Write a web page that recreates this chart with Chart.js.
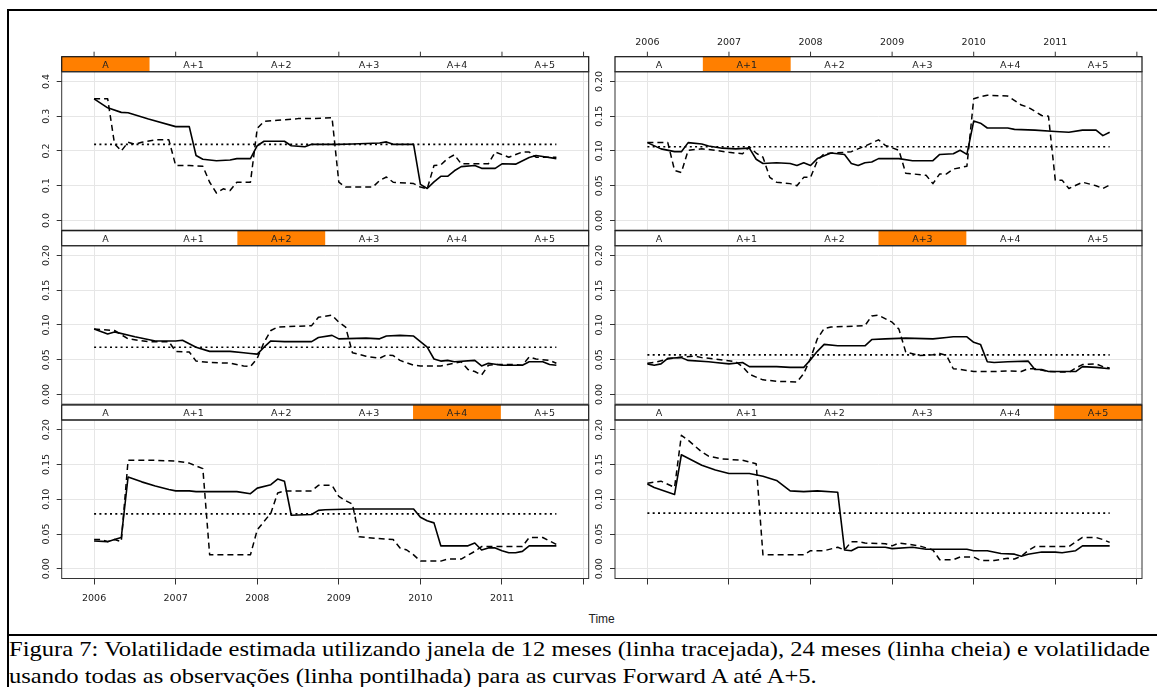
<!DOCTYPE html>
<html>
<head>
<meta charset="utf-8">
<script src="https://cdn.jsdelivr.net/npm/chart.js@4.4.0/dist/chart.umd.min.js"></script>
<style>
  body { margin: 0; width: 1157px; height: 687px; background: #fff; overflow: hidden; position: relative; }
  canvas { position: absolute; }
  .rule { position: absolute; background: #000; }
  #time { position: absolute; left: 551.7px; width: 100px; top: 611px; text-align: center;
          font: 12px "Liberation Sans", Arial, sans-serif; color: #222; line-height: 16px; }
  #caption { position: absolute; left: 9px; top: 635px; font-family: "Liberation Serif", "Times New Roman", serif;
             font-size: 22px; line-height: 27px; white-space: nowrap; transform-origin: 0 0; color: #000; }
</style>
</head>
<body>
<div class="rule" style="left:7px;top:9px;width:1150px;height:2px"></div>
<div class="rule" style="left:7px;top:9px;width:2px;height:678px"></div>
<div class="rule" style="left:7px;top:634px;width:1150px;height:2px"></div>
<div id="time">Time</div>
<div id="caption"><span id="line1">Figura 7: Volatilidade estimada utilizando janela de 12 meses (linha tracejada), 24 meses (linha cheia) e volatilidade</span><br><span>usando todas as observações (linha pontilhada) para as curvas Forward A até A+5.</span></div>
<script>
// x values are months since Jan 2006 (0 = Jan 2006, 68 = Sep 2011)
const START_YEAR = 2006;

const panelNames = ['A', 'A+1', 'A+2', 'A+3', 'A+4', 'A+5'];
const xTicks = [2006, 2007, 2008, 2009, 2010, 2011, 2012];
const xTickLabels = ['2006', '2007', '2008', '2009', '2010', '2011', ''];
const yTicksWide = [0, 0.1, 0.2, 0.3, 0.4];
const yTicksNarrow = [0, 0.05, 0.1, 0.15, 0.2];
const yTop = [0.4, 0.2, 0.2, 0.2, 0.2, 0.2];

// volatility using all observations (dotted line)
const volAll = [0.219, 0.106, 0.068, 0.057, 0.079, 0.080];

// 24 month window (solid line): [month, value]
const vol24A = [[0,.350],[2,.324],[4,.311],[5,.310],[8,.292],[12,.270],[14,.270],[15,.187],[16,.176],[18,.172],[20,.174],[21,.178],[23,.178],[24,.215],[25,.228],[28,.228],[29,.215],[31,.212],[32,.219],[36,.219],[38,.220],[42,.223],[43,.226],[44,.219],[47,.219],[48,.104],[49,.092],[50,.111],[51,.127],[52,.127],[53,.143],[54,.155],[56,.158],[57,.150],[59,.150],[60,.163],[62,.162],[64,.181],[65,.187],[66,.184],[68,.178]];
const vol24A1 = [[0,.112],[2,.103],[4,.099],[5,.099],[6,.112],[8,.110],[9,.107],[11,.104],[13,.103],[15,.104],[16,.088],[17,.082],[19,.083],[21,.082],[22,.079],[23,.083],[24,.079],[25,.089],[27,.097],[29,.095],[30,.082],[31,.079],[32,.083],[33,.084],[34,.089],[37,.089],[39,.086],[42,.086],[43,.095],[45,.096],[46,.101],[47,.095],[48,.143],[49,.140],[50,.133],[53,.133],[54,.131],[57,.130],[60,.128],[62,.127],[64,.130],[66,.130],[67,.122],[68,.127]];
const vol24A2 = [[0,.094],[2,.087],[3,.090],[6,.083],[9,.077],[12,.077],[13,.078],[15,.068],[17,.062],[20,.062],[22,.060],[23,.059],[24,.058],[25,.068],[26,.077],[28,.076],[32,.076],[33,.082],[35,.085],[36,.080],[40,.081],[42,.080],[43,.084],[45,.085],[47,.084],[48,.076],[49,.068],[50,.051],[51,.048],[52,.049],[53,.047],[56,.049],[57,.041],[58,.045],[60,.042],[63,.042],[64,.047],[66,.047],[67,.043],[68,.042]];
const vol24A3 = [[0,.044],[1,.042],[2,.044],[3,.052],[5,.053],[6,.049],[9,.047],[10,.046],[12,.044],[14,.046],[15,.040],[19,.040],[21,.039],[23,.039],[24,.050],[25,.062],[26,.072],[28,.070],[32,.070],[33,.079],[35,.080],[38,.081],[42,.080],[44,.082],[45,.083],[47,.083],[48,.075],[49,.072],[50,.047],[51,.046],[53,.047],[56,.048],[57,.036],[58,.036],[59,.033],[63,.033],[64,.040],[66,.039],[68,.037]];
const vol24A4 = [[0,.040],[2,.039],[3,.042],[4,.045],[5,.132],[7,.125],[9,.119],[11,.114],[12,.112],[14,.112],[15,.111],[21,.111],[23,.108],[24,.116],[26,.121],[27,.129],[28,.126],[29,.077],[32,.078],[33,.084],[34,.085],[38,.086],[47,.086],[48,.074],[49,.069],[50,.066],[51,.033],[55,.033],[56,.037],[57,.027],[58,.030],[59,.030],[60,.026],[61,.023],[62,.023],[63,.025],[64,.033],[68,.033]];
const vol24A5 = [[0,.122],[1,.117],[4,.107],[5,.164],[8,.149],[10,.142],[12,.137],[15,.137],[17,.133],[19,.127],[21,.112],[23,.111],[25,.112],[28,.110],[29,.027],[30,.026],[31,.031],[35,.031],[36,.029],[39,.031],[41,.028],[47,.028],[48,.026],[50,.026],[52,.022],[54,.021],[55,.018],[56,.021],[58,.024],[60,.024],[61,.023],[63,.026],[64,.033],[68,.033]];

// 12 month window (dashed line)
const vol12A = [[0,.350],[2,.350],[3,.221],[4,.200],[5,.225],[6,.219],[7,.225],[9,.232],[11,.232],[12,.158],[14,.158],[16,.156],[17,.110],[18,.079],[19,.091],[20,.086],[21,.110],[23,.110],[24,.265],[25,.285],[27,.288],[30,.293],[32,.293],[35,.296],[36,.110],[37,.096],[41,.096],[42,.115],[43,.125],[44,.110],[47,.106],[48,.096],[49,.091],[50,.158],[51,.160],[52,.178],[53,.189],[54,.163],[58,.163],[59,.197],[61,.182],[63,.197],[64,.197],[65,.182],[68,.182]];
const vol12A1 = [[0,.112],[3,.112],[4,.072],[5,.069],[6,.101],[8,.103],[10,.101],[12,.098],[14,.096],[15,.106],[16,.097],[17,.091],[18,.062],[19,.055],[21,.053],[22,.050],[23,.062],[24,.062],[25,.086],[26,.096],[29,.098],[30,.099],[32,.107],[34,.116],[35,.108],[37,.101],[38,.068],[41,.065],[42,.053],[43,.067],[44,.067],[45,.074],[47,.078],[48,.175],[49,.178],[50,.180],[53,.179],[55,.166],[56,.163],[58,.151],[59,.150],[60,.058],[61,.058],[62,.046],[64,.055],[66,.050],[67,.046],[68,.051]];
const vol12A2 = [[0,.094],[3,.092],[5,.080],[8,.076],[11,.076],[12,.062],[14,.061],[15,.048],[17,.046],[20,.045],[22,.041],[23,.040],[24,.052],[25,.075],[26,.092],[27,.097],[32,.099],[33,.111],[35,.114],[36,.104],[37,.097],[38,.060],[40,.055],[42,.052],[43,.057],[44,.056],[45,.049],[47,.042],[48,.041],[51,.041],[54,.047],[55,.036],[56,.033],[57,.028],[58,.042],[59,.043],[62,.043],[63,.042],[64,.054],[65,.051],[67,.049],[68,.045]];
const vol12A3 = [[0,.045],[1,.046],[3,.051],[5,.054],[7,.055],[8,.053],[10,.051],[13,.047],[14,.040],[15,.029],[17,.021],[19,.019],[22,.018],[23,.030],[24,.052],[25,.080],[26,.095],[27,.097],[32,.099],[33,.113],[34,.114],[36,.104],[37,.094],[38,.061],[40,.056],[42,.057],[43,.059],[44,.056],[45,.037],[46,.036],[48,.033],[51,.033],[53,.034],[55,.033],[56,.037],[57,.037],[59,.033],[62,.032],[63,.038],[64,.043],[66,.044],[67,.040],[68,.038]];
const vol12A4 = [[0,.042],[1,.042],[2,.039],[3,.042],[4,.039],[5,.156],[9,.156],[12,.155],[14,.152],[16,.144],[17,.020],[19,.020],[23,.020],[24,.056],[25,.068],[26,.080],[27,.109],[28,.112],[32,.112],[33,.120],[35,.120],[36,.104],[37,.098],[38,.093],[39,.046],[40,.045],[44,.042],[45,.030],[46,.027],[47,.020],[48,.011],[51,.011],[52,.014],[54,.014],[56,.025],[57,.032],[63,.032],[64,.045],[66,.045],[67,.040],[68,.035]];
const vol12A5 = [[0,.123],[2,.126],[4,.117],[5,.192],[6,.185],[8,.168],[9,.162],[11,.158],[14,.156],[16,.151],[17,.020],[20,.020],[23,.020],[24,.026],[26,.026],[28,.031],[29,.027],[30,.039],[31,.039],[32,.037],[35,.036],[36,.033],[37,.037],[40,.033],[42,.027],[43,.013],[45,.013],[46,.017],[48,.017],[49,.012],[51,.012],[53,.015],[54,.014],[55,.018],[56,.026],[57,.032],[62,.032],[64,.045],[66,.045],[67,.042],[68,.038]];

const vol24 = [vol24A, vol24A1, vol24A2, vol24A3, vol24A4, vol24A5];
const vol12 = [vol12A, vol12A1, vol12A2, vol12A3, vol12A4, vol12A5];

// layout of the 3x2 lattice
const colLeft = [61.7, 615];
const rowTop = [71.7, 245.7, 420];
const PANEL_W = 527, PANEL_H = 158.5, STRIP_H = 15;
const TICK_FONT = '9.5px "DejaVu Sans", sans-serif';
const INK = '#222';

const toXY = pts => pts.map(p => ({ x: START_YEAR + p[0] / 12, y: p[1] }));
const lastMonth = 68;

const latticePlugin = {
  id: 'lattice',
  afterDraw(chart, args, opts) {
    const ctx = chart.ctx;
    const a = chart.chartArea;
    const w = a.right - a.left;
    const st = a.top - STRIP_H;
    const seg = w / panelNames.length;
    ctx.save();
    // strip with the current curve highlighted
    ctx.fillStyle = '#fff';
    ctx.fillRect(a.left, st, w, STRIP_H);
    ctx.fillStyle = '#ff7f00';
    ctx.fillRect(a.left + seg * opts.index, st, seg, STRIP_H);
    ctx.fillStyle = INK;
    ctx.font = TICK_FONT;
    ctx.textAlign = 'center';
    ctx.textBaseline = 'middle';
    panelNames.forEach((n, i) => ctx.fillText(n, a.left + seg * (i + 0.5), st + 8.6));
    ctx.strokeStyle = '#111';
    ctx.lineWidth = 1.2;
    ctx.strokeRect(a.left, st, w, STRIP_H);
    ctx.strokeStyle = '#333';
    ctx.lineWidth = 1;
    ctx.strokeRect(a.left, a.top, w, a.bottom - a.top);

    // rotated y tick labels
    const ys = chart.scales.y;
    ys.ticks.forEach(t => {
      const y = ys.getPixelForValue(t.value);
      ctx.save();
      ctx.translate(a.left - 15, y);
      ctx.rotate(-Math.PI / 2);
      ctx.fillText(t.value.toFixed(opts.decimals), 0, 0);
      ctx.restore();
    });

    // top axis above the strip on the first row
    if (opts.topTicks) {
      const xs = chart.scales.x;
      ctx.strokeStyle = '#333';
      ctx.lineWidth = 1;
      xs.ticks.forEach((t, i) => {
        const x = xs.getPixelForValue(t.value);
        ctx.beginPath();
        ctx.moveTo(x, st);
        ctx.lineTo(x, st - 5);
        ctx.stroke();
        if (opts.topLabels) ctx.fillText(xTickLabels[i], x, st - 14);
      });
    }
    ctx.restore();
  }
};

panelNames.forEach((name, i) => {
  const col = i % 2, row = Math.floor(i / 2);
  const cx = Math.floor(colLeft[col]) - 55;
  const cy = Math.floor(rowTop[row]) - 50;
  const cw = 600, ch = 270;
  const yAxisW = 6;
  const bottomRow = row === 2;
  const xAxisH = bottomRow ? 32 : 0;

  const canvas = document.createElement('canvas');
  canvas.width = cw;
  canvas.height = ch;
  canvas.style.left = cx + 'px';
  canvas.style.top = cy + 'px';
  document.body.appendChild(canvas);

  const lo = -0.07 * yTop[i], hi = 1.07 * yTop[i];
  const yTicks = yTop[i] > 0.3 ? yTicksWide : yTicksNarrow;

  new Chart(canvas.getContext('2d'), {
    type: 'line',
    data: {
      datasets: [
        {
          label: 'todas as observações',
          data: toXY([[0, volAll[i]], [lastMonth, volAll[i]]]),
          borderColor: '#000',
          borderWidth: 1.6,
          borderDash: [2, 3.3]
        },
        {
          label: '12 meses',
          data: toXY(vol12[i]),
          borderColor: '#000',
          borderWidth: 1.5,
          borderDash: [6, 4]
        },
        {
          label: '24 meses',
          data: toXY(vol24[i]),
          borderColor: '#000',
          borderWidth: 1.6
        }
      ]
    },
    options: {
      responsive: false,
      animation: false,
      events: [],
      layout: {
        padding: {
          left: colLeft[col] - cx - yAxisW,
          top: rowTop[row] - cy,
          right: cw - (colLeft[col] - cx) - PANEL_W,
          bottom: ch - (rowTop[row] - cy) - PANEL_H - xAxisH
        }
      },
      elements: {
        point: { radius: 0 },
        line: { tension: 0, borderJoinStyle: 'round', fill: false }
      },
      plugins: {
        legend: { display: false },
        tooltip: { enabled: false },
        lattice: { index: i, decimals: yTop[i] > 0.3 ? 1 : 2, topTicks: row === 0, topLabels: row === 0 && col === 1 }
      },
      scales: {
        x: {
          type: 'linear',
          min: 2005.603,
          max: 2012.063,
          afterBuildTicks: s => { s.ticks = xTicks.map(v => ({ value: v })); },
          afterFit: s => { s.height = xAxisH; },
          grid: { color: '#e6e6e6', lineWidth: 1, drawTicks: bottomRow, tickLength: 6, tickColor: '#333' },
          border: { display: false },
          ticks: {
            display: bottomRow && col === 0,
            maxRotation: 0,
            autoSkip: false,
            padding: 8,
            color: INK,
            font: { family: '"DejaVu Sans", sans-serif', size: 9.5 },
            callback: (v, idx) => xTickLabels[idx]
          }
        },
        y: {
          type: 'linear',
          min: lo,
          max: hi,
          afterBuildTicks: s => { s.ticks = yTicks.map(v => ({ value: v })); },
          afterFit: s => { s.width = yAxisW; },
          grid: { color: '#e6e6e6', lineWidth: 1, drawTicks: true, tickLength: 5, tickColor: '#333' },
          border: { display: false },
          ticks: { display: false }
        }
      }
    },
    plugins: [latticePlugin]
  });
});

// stretch the caption's first line to the frame width, as in the figure
const cap = document.getElementById('caption');
const w1 = document.getElementById('line1').getBoundingClientRect().width;
cap.style.transform = 'scaleX(' + (1141 / w1) + ')';
</script>
</body>
</html>
